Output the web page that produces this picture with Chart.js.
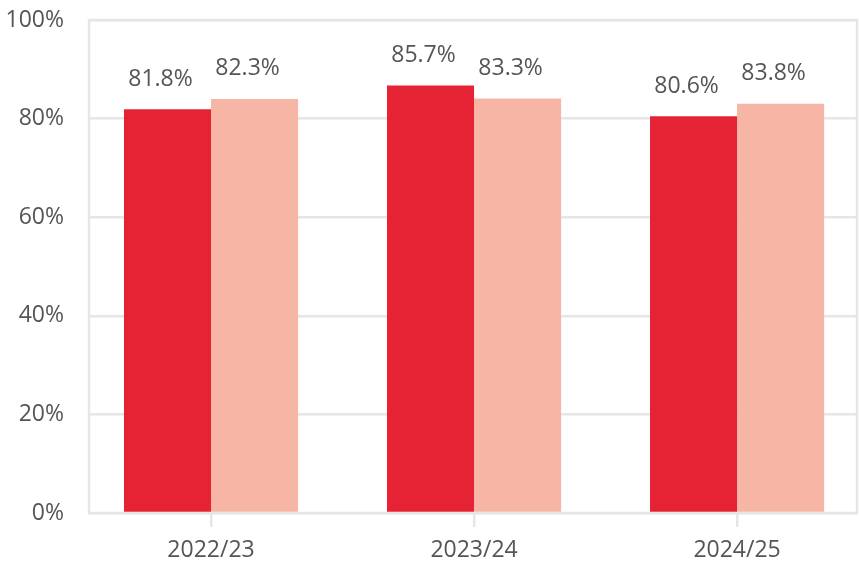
<!DOCTYPE html>
<html>
<head>
<meta charset="utf-8">
<script src="https://cdn.jsdelivr.net/npm/chart.js@4"></script>
<style>
  html, body { margin: 0; padding: 0; background: #fff; }
  #wrap { width: 859px; height: 564px; }
</style>
</head>
<body>
<div id="wrap"><canvas id="myChart" width="859" height="564"></canvas></div>
<script>
// categories and values
const years = ["2022/23", "2023/24", "2024/25"];
const seriesA = [81.9, 86.7, 80.5];   // red bars (height as drawn)
const seriesB = [84.0, 84.1, 83.0];   // pink bars (height as drawn)
const labelsA = ["81.8%", "85.7%", "80.6%"];
const labelsB = ["82.3%", "83.3%", "83.8%"];
const yTicks = [0, 20, 40, 60, 80, 100];

const textColor = "#555555";
const gridColor = "#e6e6e6";
const fontFamily = "'Open Sans', 'Noto Sans', sans-serif";

// light grey box round the plot area, under the bars
const frame = {
  id: "frame",
  beforeDatasetsDraw(chart) {
    const a = chart.chartArea;
    const ctx = chart.ctx;
    ctx.save();
    ctx.strokeStyle = gridColor;
    ctx.lineWidth = 2.5;
    ctx.strokeRect(a.left, a.top, a.right - a.left, a.bottom - a.top);
    ctx.restore();
  }
};

// value labels above the bars
const barLabels = {
  id: "barLabels",
  afterDatasetsDraw(chart) {
    const ctx = chart.ctx;
    const texts = [labelsA, labelsB];
    ctx.save();
    ctx.font = "23px " + fontFamily;
    ctx.fillStyle = textColor;
    ctx.textAlign = "center";
    ctx.textBaseline = "middle";
    chart.data.datasets.forEach((ds, d) => {
      chart.getDatasetMeta(d).data.forEach((bar, i) => {
        ctx.fillText(texts[d][i], bar.x - 7, bar.y - 30);
      });
    });
    ctx.restore();
  }
};

// x is a linear index so the groups can sit off-centre in the frame, as in the picture
const points = s => s.map((v, i) => ({ x: i, y: v }));

new Chart(document.getElementById("myChart").getContext("2d"), {
  type: "bar",
  data: {
    datasets: [
      { data: points(seriesA), backgroundColor: "#e52335", borderWidth: 0 },
      { data: points(seriesB), backgroundColor: "#f6b5a5", borderWidth: 0 }
    ]
  },
  options: {
    responsive: false,
    animation: false,
    layout: { padding: { top: 20, right: 2, left: 0, bottom: 0 } },
    plugins: {
      legend: { display: false },
      tooltip: { enabled: false }
    },
    datasets: {
      bar: { barPercentage: 1.0, categoryPercentage: 0.662 }
    },
    scales: {
      x: {
        type: "linear",
        offset: false,
        min: -0.464,
        max: 2.456,
        afterBuildTicks(axis) { axis.ticks = years.map((y, i) => ({ value: i })); },
        grid: {
          offset: false,
          drawOnChartArea: false,
          color: gridColor,
          lineWidth: 2.5,
          tickLength: 14
        },
        border: { display: false },
        ticks: {
          color: textColor,
          font: { family: fontFamily, size: 23 },
          padding: 10,
          maxRotation: 0,
          callback: v => years[v]
        },
        afterFit(axis) { axis.height = 51; }
      },
      y: {
        min: 0,
        max: 100,
        afterBuildTicks(axis) { axis.ticks = yTicks.map(v => ({ value: v })); },
        grid: { color: gridColor, lineWidth: 2.5, tickLength: 25, tickColor: "rgba(0,0,0,0)" },
        border: { display: false },
        ticks: {
          color: textColor,
          font: { family: fontFamily, size: 23 },
          padding: 0,
          callback: v => v + "%"
        },
        afterFit(axis) { axis.width = 89; }
      }
    }
  },
  plugins: [frame, barLabels]
});
</script>
</body>
</html>
